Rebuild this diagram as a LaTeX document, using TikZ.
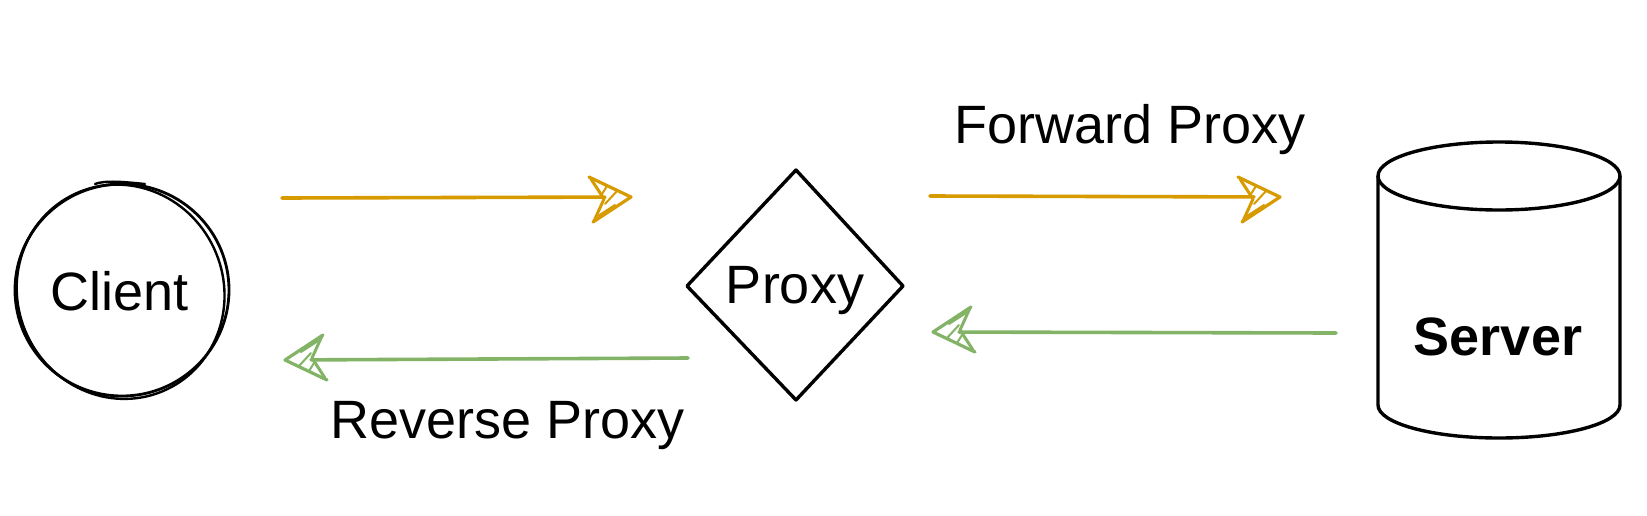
\documentclass[tikz,border=0pt]{standalone}
\usepackage{fontspec}
\setmainfont{Liberation Sans}
\definecolor{fwd}{HTML}{D79B00}
\definecolor{rev}{HTML}{82B366}
\tikzset{
  sketchhead/.pic={
    \draw[line width=3.2pt, line join=round, line cap=round] (-42,-20) -- (0,0) -- (-38,25);
    \draw[line width=3pt, line join=round, line cap=round] (-40,-18) -- (-27,2) -- (-37,24);
    \draw[line width=2pt, line cap=round] (-29,-3) -- (-24,-11) (-26,7) -- (-14,-6) (-33,19) -- (-16,8);
  },
  shapeline/.style={line width=3.4pt, black, line join=round},
  lbl/.style={font=\fontsize{54}{64}\selectfont, inner sep=0pt, anchor=base},
  lblb/.style={font=\fontsize{54}{64}\selectfont\bfseries, inner sep=0pt, anchor=base},
  conn/.style={line width=3.6pt, line cap=round, shorten >=26pt},
}
\begin{document}
\begin{tikzpicture}[x=1pt,y=-1pt]
\useasboundingbox (0,0) rectangle (1647,515);
\fill[white] (0,0) rectangle (1647,515);

% Client (sketchy circle)
\draw[line width=2.8pt] (122,290) ellipse [x radius=107, y radius=106];
\draw[line width=2.4pt, rotate around={25:(122,290)}] (120,291) ellipse [x radius=103, y radius=108];
\draw[line width=2.4pt, line cap=round] (95,184) .. controls (105,180) and (125,182) .. (145,184);
\node[lbl] (client) at (120,310) {Client};

% Proxy (diamond)
\draw[shapeline] (796,170) -- (903,286) -- (796,400) -- (687,286) -- cycle;
\node[lbl] (proxy) at (795,303) {Proxy};

% Server (cylinder)
\draw[shapeline] (1378,176) -- (1378,405) arc[start angle=180, end angle=0, x radius=121, y radius=33] -- (1620,176);
\draw[shapeline] (1499,176) ellipse [x radius=121, y radius=34];
\node[lblb] (server) at (1498,355) {Server};

% Labels
\node[lbl] (fwdlbl) at (1130,143) {Forward Proxy};
\node[lbl] (revlbl) at (508,438) {Reverse Proxy};

% Connector end points
\coordinate (a1s) at (282,198);
\coordinate (a1e) at (631,197);
\coordinate (a2s) at (930,196);
\coordinate (a2e) at (1280,197);
\coordinate (a3s) at (1336,333);
\coordinate (a3e) at (933,332);
\coordinate (a4s) at (688,358);
\coordinate (a4e) at (285,360);

% Connectors
\draw[conn, fwd] (a1s) -- (a1e);
\pic[fwd] at (a1e) {sketchhead};
\draw[conn, fwd] (a2s) -- (a2e);
\pic[fwd] at (a2e) {sketchhead};
\draw[conn, rev] (a3s) -- (a3e);
\pic[rev, rotate=180] at (a3e) {sketchhead};
\draw[conn, rev] (a4s) -- (a4e);
\pic[rev, rotate=180] at (a4e) {sketchhead};
\end{tikzpicture}
\end{document}
